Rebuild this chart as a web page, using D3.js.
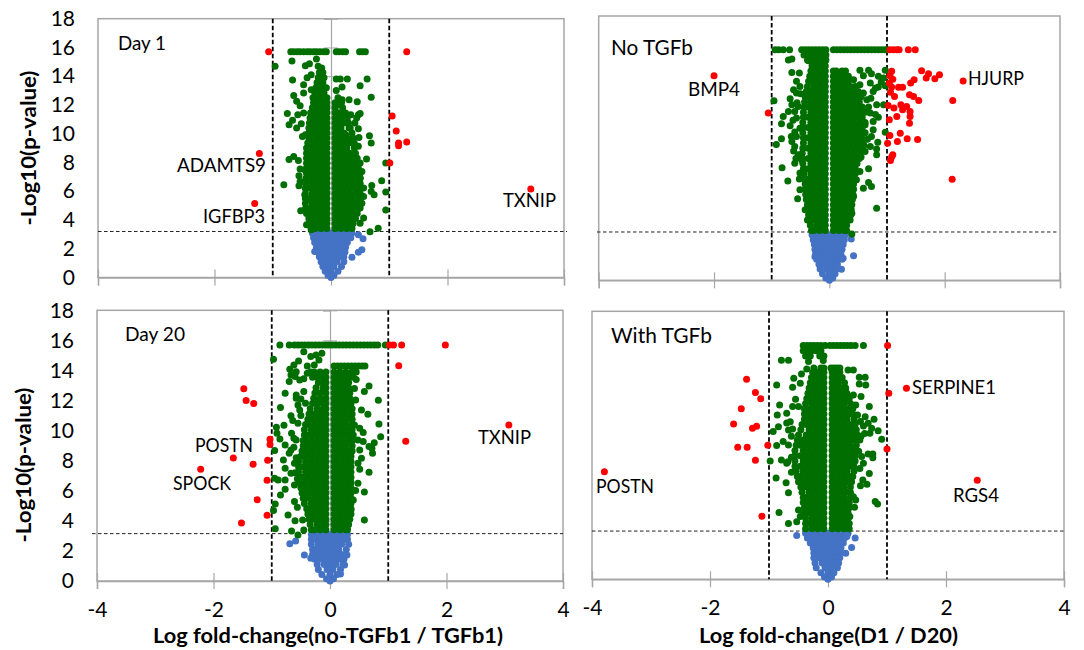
<!DOCTYPE html>
<html><head><meta charset="utf-8">
<script src="https://cdn.jsdelivr.net/npm/d3@7/dist/d3.min.js"></script>
<style>html,body{margin:0;padding:0;background:#fff}svg{display:block}text{font-family:Lato,"Open Sans",sans-serif;fill:#000}</style>
</head><body><svg id="chart" width="1084" height="650"></svg>
<script>
// Values. Isolated dots are read one by one as [x, y]; overplotted masses are typed row by row as [y, x, x, ...].
const xTicks=[-4,-2,0,2,4];
const yTicks=[0,2,4,6,8,10,12,14,16,18];

// ---- Day 1
const day1Red=[[-1.07,15.7],[1.3,15.7],[1.05,11.23],[1.12,10.19],[1.16,9.35],[1.16,9.16],[1.3,9.42],[1.01,7.96],[-1.23,8.63],[-1.31,5.15],[3.43,6.15]];
const day1Green=[[-.69,15.7],[-.64,15.7],[-.58,15.7],[-.53,15.7],[-.47,15.7],[-.41,15.7],[-.36,15.7],[-.3,15.7],[-.25,15.7],[-.19,15.7],[-.13,15.7],[-.08,15.7],[.09,15.7],[.14,15.7],[.2,15.7],[.25,15.7],[.49,15.7],[.54,15.7],[.59,15.7],
[-.96,14.7],[-.67,15.05],[-.44,14.73],[-.37,14.87],[-.66,13.74],[-.47,13.41],[-.41,13.9],[-.34,14.1],[-.22,14.7],[-.16,14.57],[-.16,14],[-.25,15.2],[-.64,12.65],[-.59,12.25],[-.53,11.95],[-.47,12.83],[-.34,13.06],[-.31,12.5],[-.47,11.44],[-.75,11.4],[-.57,11.32],[-.66,10.93],[-.72,10.63],[-.51,10.7],[-.59,10.4],[-.49,9.8],[-.44,9.93],[-.72,8.2],[-.64,8.42],[-.56,8.14],[-.53,7.54],[-.45,7.5],[-.55,7.08],[-.53,6.68],[-.81,6.45],[-.55,6.38],[-.44,6.57],[-.45,5.75],[-.41,5.4],[-.52,4.64],[-.44,4.76],[-.37,4],[-.42,3.67],[-.34,3.32],
[.09,13.8],[.16,13.8],[.28,13.8],[.62,13.8],[.5,13.34],[.19,13.25],[.09,13],[.69,12.53],[.45,12.23],[.31,12.37],[.19,12.37],[.12,12.02],[.34,11.32],[.47,11.32],[.25,11.44],[.5,11.4],[.44,11.09],[.41,10.74],[.47,10.35],[.31,10.4],[.48,9.74],[.66,9.86],[.69,9.35],[.47,9.12],[.25,9.93],[.61,8.24],[.94,7.96],[.5,7.96],[.53,7.38],[.5,6.91],[.87,6.73],[.7,6.4],[.56,6.22],[.69,5.99],[.94,5.94],[.74,5.75],[.56,5.64],[.53,5.17],[.5,4.83],[.94,4.69],[.56,4.13],[.5,3.78],[.81,3.43],[.67,3.18]];
const day1Core=[
[3.4,-.34,-.27,-.17,-.07,.07,.17,.27,.36],
[3.75,-.36,-.32,-.22,-.12,-.07,.07,.12,.22,.32,.38],
[4.1,-.38,-.27,-.17,-.07,.07,.17,.27,.37,.42],
[4.45,-.42,-.32,-.22,-.12,-.07,.07,.12,.22,.32,.42,.45],
[4.8,-.43,-.37,-.27,-.17,-.07,.07,.17,.27,.37,.47],
[5.15,-.44,-.32,-.22,-.12,-.07,.07,.12,.22,.32,.42,.48],
[5.5,-.44,-.37,-.27,-.17,-.07,.07,.17,.27,.37,.48],
[5.85,-.44,-.32,-.22,-.12,-.07,.07,.12,.22,.32,.42,.5],
[6.2,-.44,-.37,-.27,-.17,-.07,.07,.17,.27,.37,.47,.5],
[6.55,-.43,-.32,-.22,-.12,-.07,.07,.12,.22,.32,.42,.5],
[6.9,-.43,-.37,-.27,-.17,-.07,.07,.17,.27,.37,.47,.5],
[7.25,-.42,-.32,-.22,-.12,-.07,.07,.12,.22,.32,.42,.5],
[7.6,-.42,-.37,-.27,-.17,-.07,.07,.17,.27,.37,.47],
[7.95,-.42,-.32,-.22,-.12,-.07,.07,.12,.22,.32,.42,.47],
[8.3,-.42,-.37,-.27,-.17,-.07,.07,.17,.27,.37,.45],
[8.65,-.42,-.32,-.22,-.12,-.07,.07,.12,.22,.32,.42],
[9,-.42,-.37,-.27,-.17,-.07,.07,.17,.27,.4],
[9.35,-.4,-.32,-.22,-.12,-.07,.07,.12,.22,.32,.4],
[9.7,-.38,-.27,-.17,-.07,.07,.17,.27,.38],
[10.05,-.38,-.32,-.22,-.12,-.07,.07,.12,.22,.36],
[10.4,-.38,-.27,-.17,-.07,.07,.17,.33],
[10.75,-.37,-.32,-.22,-.12,-.07,.07,.12,.22,.3],
[11.1,-.36,-.27,-.17,-.07,.07,.17,.28],
[11.45,-.35,-.32,-.22,-.12,-.07,.07,.12,.22],
[11.8,-.32,-.27,-.17,-.07,.07,.2],
[12.15,-.3,-.22,-.12,-.07,.07,.12,.18],
[12.5,-.28,-.17,-.07,.12],
[12.85,-.28,-.22,-.12],
[13.2,-.26,-.17,-.08],
[13.55,-.24,-.14],
[13.9,-.22,-.12],
[14.25,-.2,-.14]];
const day1Blue=[
[3.1,-.32,-.3,-.2,-.1,0,.1,.2,.3,.36],
[2.77,-.3,-.25,-.15,-.05,.05,.15,.25,.34],
[2.44,-.28,-.2,-.1,0,.1,.2,.28],
[2.1,-.25,-.15,-.05,.05,.15,.25],
[1.77,-.22,-.2,-.1,0,.1,.2,.24],
[1.44,-.2,-.15,-.05,.05,.15,.22],
[1.1,-.17,-.1,0,.1,.22],
[.77,-.14,-.05,.05,.18],
[.44,-.1,0,.12],
[.15,-.05,.05],[0,0]];
const day1BlueOut=[[.47,2.97],[.55,2.69],[.53,1.93],[.47,1.76],[-.28,1.81],[.36,1.41]];

// ---- No TGFb
const noTgfbRed=[[-2,13.93],[-1.06,11.39],[2.32,13.57],[2.14,12.25],[2.13,6.89],[1.05,15.7],[1.11,15.7],[1.17,15.7],[1.21,15.7],[1.37,15.7],[1.49,15.7],[1.6,14.27],[1.72,14.07],[1.68,13.77],[1.91,14],[1.83,13.73],[1.47,13.66],[1.41,13.43],[1.08,14.23],[1.05,13.93],[1.1,13.7],[1.04,13.43],[1.08,13.16],[1.2,13.14],[1.27,13.14],[1.06,12.8],[1.13,12.52],[1.39,12.64],[1.46,12.52],[1.55,12.25],[1.02,11.91],[1.12,11.73],[1.24,11.95],[1.34,11.84],[1.27,11.61],[1.4,11.5],[1.4,11.16],[1.17,11.16],[1.04,10.93],[1.39,10.7],[1.23,10.02],[1.05,9.86],[1.35,9.64],[1.53,9.59],[1.18,9.45],[1.01,9.34],[1.1,8.55],[1.08,8.39],[1.06,8.16]];
const noTgfbGreen=[[-.94,15.7],[-.88,15.7],[-.8,15.7],[-.69,15.7],[-.48,15.7],[-.42,15.7],[-.36,15.7],[-.3,15.7],[-.24,15.7],[-.18,15.7],[-.12,15.7],[-.06,15.7],[.07,15.7],[.13,15.7],[.19,15.7],[.25,15.7],[.31,15.7],[.37,15.7],[.43,15.7],[.49,15.7],[.55,15.7],[.61,15.7],[.67,15.7],[.73,15.7],[.79,15.7],[.85,15.7],[.91,15.7],[.97,15.7],[1,15.7],
[-.44,15.35],[-.36,15.35],[-.28,15.35],[-.2,15.35],[-.12,15.35],[-.06,15.35],[-.71,15],[-.65,15.07],[-.38,15],[-.3,15],[-.22,15],[-.1,15],[-.06,15],
[-.96,12.23],[-.65,14.16],[-.52,14.11],[-.57,13.55],[-.51,13.2],[-.62,12.98],[-.57,12.75],[-.68,12.36],[-.65,11.95],[-.71,11.5],[-.54,11.84],[-.8,11.16],[-.83,10.66],[-.68,10.52],[-.57,11.05],[-.51,10.36],[-.83,9.64],[-.92,9.25],[-.65,9.45],[-.57,9.8],[-.6,9.11],[-.54,8.55],[-.6,7.98],[-.82,7.66],[-.51,7.3],[-.72,6.77],[-.51,6.16],[-.55,5.55],[-.42,4.8],[-.38,4.11],[-.48,8.2],[-.63,10.9],[-.6,10.1],[-.66,9.8],[-.62,8.8],[-.58,8.3],[-.52,6.9],[-.5,12.7],[-.56,12.1],[-.6,11.5],
[.53,14.3],[.68,14.3],[.73,14.07],[.97,14.3],[.85,13.89],[.94,13.77],[.59,13.93],[.42,13.66],[.53,13.32],[.71,13.43],[.85,13.16],[.97,13.25],[.76,12.86],[.59,12.75],[.65,12.3],[.82,11.95],[.94,11.95],[.71,11.39],[.85,11.11],[.76,10.82],[.62,10.59],[.76,10.25],[.97,10.09],[.73,9.8],[.84,9.41],[.71,9.11],[.62,8.77],[.82,8.95],[.82,8.55],[.47,8.43],[.45,7.98],[.68,7.59],[.53,7.41],[.47,6.84],[.68,6.66],[.73,6.39],[.59,6.27],[.42,5.7],[.82,4.91],[.39,4.57],[.39,3.16],[.9,13.5],[.8,13.1],[.72,12.4],[.68,11.8],[.8,11.3],[.66,9.6],[.6,9.2],[.55,8.4]];
const noTgfbCore=[
[3.4,-.31,-.27,-.17,-.07,.07,.17,.27,.3],
[3.75,-.33,-.22,-.12,-.07,.07,.12,.22,.3],
[4.1,-.36,-.27,-.17,-.07,.07,.17,.27,.36],
[4.45,-.36,-.32,-.22,-.12,-.07,.07,.12,.22,.32,.37],
[4.8,-.37,-.27,-.17,-.07,.07,.17,.27,.38],
[5.15,-.38,-.32,-.22,-.12,-.07,.07,.12,.22,.32,.39],
[5.5,-.4,-.37,-.27,-.17,-.07,.07,.17,.27,.37,.4],
[5.85,-.41,-.32,-.22,-.12,-.07,.07,.12,.22,.32,.41],
[6.2,-.42,-.37,-.27,-.17,-.07,.07,.17,.27,.37,.42],
[6.55,-.42,-.32,-.22,-.12,-.07,.07,.12,.22,.32,.42],
[6.9,-.43,-.37,-.27,-.17,-.07,.07,.17,.27,.37,.43],
[7.25,-.44,-.32,-.22,-.12,-.07,.07,.12,.22,.32,.42,.45],
[7.6,-.45,-.37,-.27,-.17,-.07,.07,.17,.27,.37,.45],
[7.95,-.46,-.32,-.22,-.12,-.07,.07,.12,.22,.32,.42,.48],
[8.3,-.47,-.37,-.27,-.17,-.07,.07,.17,.27,.37,.47,.52],
[8.65,-.47,-.32,-.22,-.12,-.07,.07,.12,.22,.32,.42,.52],
[9,-.46,-.37,-.27,-.17,-.07,.07,.17,.27,.37,.47,.55],
[9.35,-.45,-.32,-.22,-.12,-.07,.07,.12,.22,.32,.42,.52,.58],
[9.7,-.45,-.37,-.27,-.17,-.07,.07,.17,.27,.37,.47,.56],
[10.05,-.46,-.32,-.22,-.12,-.07,.07,.12,.22,.32,.42,.52,.62],
[10.4,-.46,-.37,-.27,-.17,-.07,.07,.17,.27,.37,.47,.57],
[10.75,-.46,-.32,-.22,-.12,-.07,.07,.12,.22,.32,.42,.52,.62],
[11.1,-.45,-.37,-.27,-.17,-.07,.07,.17,.27,.37,.47,.57],
[11.45,-.45,-.32,-.22,-.12,-.07,.07,.12,.22,.32,.42,.52,.62],
[11.8,-.44,-.37,-.27,-.17,-.07,.07,.17,.27,.37,.47,.57],
[12.15,-.43,-.32,-.22,-.12,-.07,.07,.12,.22,.32,.42,.52],
[12.5,-.42,-.37,-.27,-.17,-.07,.07,.17,.27,.37,.47,.55],
[12.85,-.4,-.32,-.22,-.12,-.07,.07,.12,.22,.32,.42,.5],
[13.2,-.38,-.27,-.17,-.07,.07,.17,.27,.37,.45],
[13.55,-.36,-.32,-.22,-.12,-.07,.07,.12,.22,.32],
[13.9,-.34,-.27,-.17,-.07,.07,.17,.27,.33],
[14.25,-.32,-.22,-.12,-.07,.07,.12,.22,.28],
[14.6,-.3,-.27,-.17,-.07],
[14.95,-.36,-.22,-.12,-.07]];
const noTgfbBlue=[
[3.1,-.3,-.2,-.1,0,.1,.2,.28],
[2.77,-.28,-.25,-.15,-.05,.05,.15,.26],
[2.44,-.26,-.2,-.1,0,.1,.2,.24],
[2.1,-.25,-.15,-.05,.05,.15,.22],
[1.77,-.24,-.2,-.1,0,.1,.2],
[1.44,-.22,-.15,-.05,.05,.15,.22],
[1.1,-.18,-.1,0,.1,.14],
[.77,-.16,-.05,.05,.12],
[.44,-.12,0,.1],
[.15,-.06,.06],[0,0]];
const noTgfbBlueOut=[[.38,2.82],[.42,1.68],[.21,.75],[.24,1.5],[-.25,1.6]];

// ---- Day 20
const day20Red=[[1.02,15.7],[1.09,15.7],[1.23,15.7],[1.98,15.7],[1.18,14.32],[3.07,10.38],[1.3,9.29],[-1.48,12.79],[-1.44,12],[-1.31,11.8],[-1.03,9.42],[-1.03,9.07],[-1.66,8.18],[-2.22,7.43],[-1.32,7.76],[-1.07,8.03],[-1.08,6.7],[-1.25,5.41],[-1.08,4.37],[-1.52,3.86]];
const day20Green=[[-.86,15.7],[-.7,15.7],[-.61,15.7],[-.55,15.7],[-.49,15.7],[-.43,15.7],[-.37,15.7],[-.31,15.7],[-.25,15.7],[-.19,15.7],[-.13,15.7],[-.07,15.7],[-.02,15.7],[.04,15.7],[.1,15.7],[.16,15.7],[.22,15.7],[.28,15.7],[.34,15.7],[.4,15.7],[.46,15.7],[.52,15.7],[.58,15.7],[.64,15.7],[.7,15.7],[.76,15.7],[.82,15.7],[.95,15.7],
[-.97,14.74],[-.45,15.25],[-.33,14.92],[-.24,15.03],[-.14,15.14],[-.19,14.7],[-.27,14.37],[-.39,14.3],[-.54,14.63],[-.62,14.37],[-.69,14.08],[-.67,13.7],[-.7,13.26],[-.58,13.92],[-.39,13.81],[-.52,13.37],[-.45,13.45],[-.6,13.6],[-.77,12.48],[-.45,12.6],[-.58,12.37],[-.58,12.15],[-.85,11.53],[-.55,11.7],[-.42,11.82],[-.52,11.37],[-.67,10.98],[-.64,10.67],[-.79,10.35],[-.92,10.22],[-.55,10.49],[-.91,9.82],[-.66,9.82],[-.86,9.45],[-.77,9.05],[-.95,8.67],[-.58,9.38],[-.67,8.71],[-.8,8.05],[-.7,8.49],[-.77,7.49],[-.61,7.83],[-.95,6.83],[-.89,6.72],[-.77,6.72],[-.67,7.16],[-.61,6.39],[-.77,6.1],[-.85,5.72],[-.61,5.28],[-.94,5.12],[-.97,4.68],[-.56,4.9],[-.72,4.39],[-.6,4.01],[-.47,4.06],[-.94,3.48],[-.66,3.33],[-.45,3.39],[-.55,3.06],[-.62,8.9],[-.58,8.2],[-.6,7.2],[-.56,6.8],[-.62,9.5],[-.5,11],[-.5,12.1],
[.67,12.97],[.59,12.6],[.44,12.04],[.83,12.02],[.54,11.37],[.65,11.09],[.84,10.44],[.87,9.6],[.51,10.16],[.57,9.87],[.42,10.38],[.48,9.38],[.57,9.27],[.76,9.2],[.67,8.94],[.72,8.82],[.73,8.49],[.51,8.71],[.54,8.16],[.48,7.83],[.51,7.43],[.67,7.23],[.48,6.5],[.44,6.01],[.59,5.92],[.4,5.39],[.59,4.06],[.36,4.72],[.29,3.5],[.45,13.4],[.42,12.8]];
const day20Core=[
[3.4,-.32,-.27,-.17,-.07,.07,.17,.27,.3],
[3.75,-.34,-.22,-.12,-.07,.07,.12,.22,.32],
[4.1,-.36,-.27,-.17,-.07,.07,.17,.27,.34],
[4.45,-.38,-.32,-.22,-.12,-.07,.07,.12,.22,.32,.36],
[4.8,-.4,-.37,-.27,-.17,-.07,.07,.17,.27,.36],
[5.15,-.44,-.32,-.22,-.12,-.07,.07,.12,.22,.32,.36],
[5.5,-.46,-.37,-.27,-.17,-.07,.07,.17,.27,.36],
[5.85,-.48,-.42,-.32,-.22,-.12,-.07,.07,.12,.22,.32,.36],
[6.2,-.5,-.47,-.37,-.27,-.17,-.07,.07,.17,.27,.36],
[6.55,-.52,-.42,-.32,-.22,-.12,-.07,.07,.12,.22,.32,.36],
[6.9,-.52,-.47,-.37,-.27,-.17,-.07,.07,.17,.27,.36],
[7.25,-.54,-.42,-.32,-.22,-.12,-.07,.07,.12,.22,.32,.36],
[7.6,-.54,-.47,-.37,-.27,-.17,-.07,.07,.17,.27,.36],
[7.95,-.54,-.42,-.32,-.22,-.12,-.07,.07,.12,.22,.32,.36],
[8.3,-.5,-.47,-.37,-.27,-.17,-.07,.07,.17,.27,.36],
[8.65,-.48,-.42,-.32,-.22,-.12,-.07,.07,.12,.22,.32,.38],
[9,-.46,-.37,-.27,-.17,-.07,.07,.17,.27,.38],
[9.35,-.46,-.42,-.32,-.22,-.12,-.07,.07,.12,.22,.32,.38],
[9.7,-.44,-.37,-.27,-.17,-.07,.07,.17,.27,.37,.4],
[10.05,-.44,-.32,-.22,-.12,-.07,.07,.12,.22,.32,.38],
[10.4,-.42,-.37,-.27,-.17,-.07,.07,.17,.27,.38],
[10.75,-.38,-.32,-.22,-.12,-.07,.07,.12,.22,.32,.38],
[11.1,-.36,-.27,-.17,-.07,.07,.17,.27,.38],
[11.45,-.34,-.22,-.12,-.07,.07,.12,.22,.32,.38],
[11.8,-.3,-.22,-.12,-.07,.07,.17,.27,.36],
[12.15,-.28,-.17,-.07,.07,.12,.22,.32,.34],
[12.5,-.26,-.17,-.07,.07,.17,.27,.34],
[12.85,-.24,-.12,-.07,.07,.12,.22,.32],
[13.2,-.2,-.12,-.07,.07,.17,.27,.32],
[13.55,-.3,-.22,-.12,-.07,.07,.12,.22,.32,.4],
[13.9,-.33,-.27,-.17,-.07,.07,.17,.27,.37,.45],
[14.3,.07,.13,.19,.25,.31,.37,.43,.49,.55,.6]];
const day20Blue=[
[3.1,-.32,-.3,-.2,-.1,0,.1,.2,.3],
[2.77,-.32,-.25,-.15,-.05,.05,.15,.25,.3],
[2.44,-.32,-.2,-.1,0,.1,.2,.32],
[2.1,-.3,-.25,-.15,-.05,.05,.15,.28],
[1.77,-.3,-.2,-.1,0,.1,.2,.28],
[1.44,-.26,-.15,-.05,.05,.15,.24],
[1.1,-.22,-.1,0,.1,.22],
[.77,-.2,-.05,.05,.18],
[.44,-.14,0,.12],
[.15,-.06,.06],[0,0]];
const day20BlueOut=[[-.69,2.48],[-.59,2.66],[-.44,1.73],[-.33,1.51],[.18,.47],[.29,1.73],[.25,1.06]];

// ---- With TGFb
const withTgfbRed=[[1.01,15.7],[1.33,12.83],[1.03,12.49],[1,8.75],[2.53,6.65],[-3.79,7.23],[-1.38,13.43],[-1.23,12.54],[-1.14,12.13],[-1.47,11.46],[-1.6,10.43],[-1.28,10.14],[-1.21,10.28],[-1.53,8.87],[-1.37,8.87],[-1.02,9],[-1.23,7.99],[-1.12,4.23]];
const withTgfbGreen=[[-.42,15.7],[-.36,15.7],[-.3,15.7],[-.24,15.7],[-.18,15.7],[-.12,15.7],[-.05,15.7],[.03,15.7],[.09,15.7],[.15,15.7],[.21,15.7],[.27,15.7],[.33,15.7],[.39,15.7],[.46,15.7],[.6,15.7],
[-.42,15.35],[-.36,15.35],[-.28,15.35],[-.2,15.35],[-.12,15.35],[-.38,15],[-.3,15],[-.14,15],[-.07,15],[-.79,14.71],[-.67,14.71],[-.33,14.62],[-.08,14.69],[-.36,14.13],[-.45,13.79],[-.58,13.5],[-.87,13.05],[-.6,12.9],[-.47,13.16],[-.82,11.71],[-.86,11.04],[-.6,11.6],[-.7,11.15],[-.64,10.59],[-.84,10.25],[-.93,9.92],[-.67,10.03],[-.76,9.25],[-.87,8.98],[-.67,9.02],[-.79,8.01],[-.98,7.95],[-.7,7.79],[-.62,7.19],[-.88,6.81],[-.71,6.49],[-.67,5.82],[-.5,4.66],[-.83,4.48],[-.53,3.87],[-.67,3.74],[-.47,4.21],[-.62,8.2],[-.68,7.9],[-.6,10.1],[-.7,10.5],[-.62,9.6],[-.55,12.1],[-.5,11.6],
[.34,14.06],[.43,14.06],[.53,13.57],[.63,13.57],[.53,13.12],[.64,13.05],[.43,12.38],[.56,12.27],[.47,11.71],[.7,11.6],[.5,11.04],[.63,10.92],[.78,10.75],[.68,10.48],[.74,10.14],[.85,9.98],[.71,9.81],[.91,9.4],[.54,9.36],[.68,8.42],[.76,8.42],[.76,8.17],[.57,8.24],[.6,7.79],[.54,7.45],[.7,7.1],[.59,6.67],[.66,6.38],[.55,6.29],[.43,5.55],[.47,5.33],[.8,5.22],[.84,5.06],[.45,4.84],[.37,4.21],[.6,10.3],[.62,9.8],[.55,10.6],[.56,9.6],[.52,8.6]];
const withTgfbCore=[
[3.4,-.38,-.27,-.17,-.07,.07,.17,.27,.36],
[3.75,-.38,-.32,-.22,-.12,-.07,.07,.12,.22,.32,.36],
[4.1,-.38,-.27,-.17,-.07,.07,.17,.27,.34],
[4.45,-.4,-.32,-.22,-.12,-.07,.07,.12,.22,.32,.34],
[4.8,-.4,-.37,-.27,-.17,-.07,.07,.17,.27,.36],
[5.15,-.42,-.32,-.22,-.12,-.07,.07,.12,.22,.32,.36],
[5.5,-.42,-.37,-.27,-.17,-.07,.07,.17,.27,.38],
[5.85,-.44,-.32,-.22,-.12,-.07,.07,.12,.22,.32,.38],
[6.2,-.46,-.37,-.27,-.17,-.07,.07,.17,.27,.38],
[6.55,-.5,-.42,-.32,-.22,-.12,-.07,.07,.12,.22,.32,.4],
[6.9,-.52,-.47,-.37,-.27,-.17,-.07,.07,.17,.27,.37,.42],
[7.25,-.54,-.42,-.32,-.22,-.12,-.07,.07,.12,.22,.32,.44],
[7.6,-.56,-.47,-.37,-.27,-.17,-.07,.07,.17,.27,.37,.44],
[7.95,-.56,-.42,-.32,-.22,-.12,-.07,.07,.12,.22,.32,.42,.46],
[8.3,-.56,-.47,-.37,-.27,-.17,-.07,.07,.17,.27,.37,.46],
[8.65,-.56,-.42,-.32,-.22,-.12,-.07,.07,.12,.22,.32,.42,.46],
[9,-.54,-.47,-.37,-.27,-.17,-.07,.07,.17,.27,.37,.48],
[9.35,-.52,-.42,-.32,-.22,-.12,-.07,.07,.12,.22,.32,.42,.5],
[9.7,-.5,-.37,-.27,-.17,-.07,.07,.17,.27,.37,.47,.5],
[10.05,-.46,-.32,-.22,-.12,-.07,.07,.12,.22,.32,.42,.48],
[10.4,-.44,-.37,-.27,-.17,-.07,.07,.17,.27,.37,.46],
[10.75,-.4,-.32,-.22,-.12,-.07,.07,.12,.22,.32,.44],
[11.1,-.4,-.37,-.27,-.17,-.07,.07,.17,.27,.37,.42],
[11.45,-.4,-.32,-.22,-.12,-.07,.07,.12,.22,.32,.42],
[11.8,-.38,-.27,-.17,-.07,.07,.17,.27,.38],
[12.15,-.36,-.32,-.22,-.12,-.07,.07,.12,.22,.32,.36],
[12.5,-.34,-.27,-.17,-.07,.07,.17,.27,.32],
[12.85,-.32,-.22,-.12,-.07,.07,.12,.22,.3],
[13.2,-.3,-.27,-.17,-.07,.07,.17,.28],
[13.55,-.28,-.22,-.12,-.07,.07,.12,.22,.24],
[13.9,-.26,-.17,-.07,.07,.17,.2],
[14.2,-.24,-.12,-.07,.05,.1,.15,.2]];
const withTgfbBlue=[
[3.1,-.38,-.3,-.2,-.1,0,.1,.2,.3,.34],
[2.77,-.35,-.25,-.15,-.05,.05,.15,.25,.28],
[2.44,-.3,-.2,-.1,0,.1,.2,.26],
[2.1,-.25,-.15,-.05,.05,.15,.22],
[1.77,-.24,-.2,-.1,0,.1,.2],
[1.44,-.24,-.15,-.05,.05,.15,.2],
[1.1,-.22,-.1,0,.1,.18],
[.77,-.2,-.05,.05,.16],
[.44,-.12,0,.1],
[.15,-.06,.06],[0,0]];
const withTgfbBlueOut=[[-.53,2.95],[.46,2.78],[.32,2.87],[.4,2.13],[.3,1.75]];

const panelTitles=["Day 1","No TGFb","Day 20","With TGFb"];
const geneLabels=[["ADAMTS9","IGFBP3","TXNIP"],["BMP4","HJURP"],["POSTN","SPOCK","TXNIP"],["SERPINE1","POSTN","RGS4"]];
const xTitles=["Log fold-change(no-TGFb1 / TGFb1)","Log fold-change(D1 / D20)"];
const yTitle="-Log10(p-value)";

// ---- Layout (pixels), kept apart from the data
const layouts=[
 {l:98,r:564,t:18.7,b:277.5,pThresh:3.2,axisAtZero:true,yLabels:true,xLabels:false,hl:98,hr:567,yTitlePos:[29,148],titleSize:19,
  title:[118,50,48],labels:[[177,172,89],[203,223,62],[503,207,53]]},
 {l:598.7,r:1060,t:16,b:280.3,pThresh:3.29,axisAtZero:false,yLabels:false,xLabels:false,hl:597,hr:1058,titleSize:22,
  title:[611,55,82],labels:[[688,96,52],[968,85,56]]},
 {l:97,r:563,t:310.3,b:581,pThresh:3.15,axisAtZero:true,yLabels:true,xLabels:true,hl:92,hr:563,xTitle:0,xTitleBox:[153,350],yTitlePos:[24,465],titleSize:19,
  title:[125,341,60],labels:[[195,452,58],[173,490,58],[478,444,53]]},
 {l:592,r:1064,t:311.3,b:579.3,pThresh:3.24,axisAtZero:false,yLabels:false,xLabels:true,hl:592,hr:1064,xTitle:1,xTitleBox:[699,259],titleSize:22,
  title:[611,343,101],labels:[[912,394,84],[596,493,58],[953,502,46]]}
];
const series=[
 {red:day1Red,green:day1Green,core:day1Core,blue:day1Blue,blueOut:day1BlueOut},
 {red:noTgfbRed,green:noTgfbGreen,core:noTgfbCore,blue:noTgfbBlue,blueOut:noTgfbBlueOut},
 {red:day20Red,green:day20Green,core:day20Core,blue:day20Blue,blueOut:day20BlueOut},
 {red:withTgfbRed,green:withTgfbGreen,core:withTgfbCore,blue:withTgfbBlue,blueOut:withTgfbBlueOut}];

const AXIS="#a6a6a6",GREEN="#006e00",BLUE="#4472c4",RED="#ff0000",R=3.5;
const svg=d3.select("#chart");
const expand=r=>r.slice(1).map(x=>[x,r[0]]);

layouts.forEach((p,i)=>{
 const d=series[i];
 const x=d3.scaleLinear().domain([-4,4]).range([p.l,p.r]);
 const y=d3.scaleLinear().domain([0,18]).range([p.b,p.t]);
 const g=svg.append("g");
 g.append("rect").attr("x",p.l).attr("y",p.t).attr("width",p.r-p.l).attr("height",p.b-p.t).attr("fill","none").attr("stroke",AXIS).attr("stroke-width",1.5);
 const xa=g.append("g").attr("transform",`translate(0,${p.b})`).call(d3.axisBottom(x).tickValues(xTicks).tickSize(8).tickFormat(v=>p.xLabels?String(v):""));
 xa.select(".domain").attr("stroke",AXIS).attr("stroke-width",1.5);
 xa.selectAll(".tick line").attr("y1",-8).attr("stroke",AXIS).attr("stroke-width",1.2);
 xa.selectAll(".tick text").attr("y",21).style("font-size","21px").attr("font-family",null);
 if(p.axisAtZero){
  const ya=g.append("g").attr("transform",`translate(${x(0)},0)`).call(d3.axisLeft(y).tickValues(yTicks).tickSize(7).tickFormat(""));
  ya.select(".domain").attr("stroke",AXIS).attr("stroke-width",1.2);
  ya.selectAll(".tick line").attr("x2",7).attr("x1",-7).attr("stroke",AXIS);
 }
 if(p.yLabels){
  const yl=g.append("g").attr("transform",`translate(${p.l-23},0)`).call(d3.axisLeft(y).tickValues(yTicks).tickSize(0).tickPadding(0));
  yl.select(".domain").remove();
  yl.selectAll(".tick text").style("font-size","21px").attr("font-family",null);
  g.append("text").attr("transform",`translate(${p.yTitlePos[0]+7},${p.yTitlePos[1]}) rotate(-90)`).attr("text-anchor","middle").attr("font-weight","700").style("font-size","21.5px").attr("textLength",155).attr("lengthAdjust","spacingAndGlyphs").text(yTitle);
 }
 [-1,1].forEach(v=>g.append("line").attr("x1",x(v)).attr("x2",x(v)).attr("y1",p.t).attr("y2",p.b).attr("stroke","#000").attr("stroke-width",1.8).attr("stroke-dasharray","4.5 2.5"));
 g.append("line").attr("x1",p.hl).attr("x2",p.hr).attr("y1",y(p.pThresh)).attr("y2",y(p.pThresh)).attr("stroke","#222").attr("stroke-width",1).attr("stroke-dasharray","3.5 2.5");
 const dots=(pts,c)=>g.append("g").selectAll("circle").data(pts).join("circle").attr("cx",v=>x(v[0])).attr("cy",v=>y(v[1])).attr("r",R).attr("fill",c);
 dots(d.blue.flatMap(expand).concat(d.blueOut),BLUE);
 dots(d.green.concat(d.core.flatMap(expand)),GREEN);
 dots(d.red,RED);
 const lab=(box,s,size)=>g.append("text").attr("x",box[0]).attr("y",box[1]).style("font-size",size+"px").attr("textLength",box[2]).attr("lengthAdjust","spacingAndGlyphs").text(s);
 lab(p.title,panelTitles[i],p.titleSize);
 p.labels.forEach((b,j)=>lab(b,geneLabels[i][j],20));
 if(p.xLabels){
  g.append("text").attr("x",p.xTitleBox[0]).attr("y",643).attr("font-weight","700").style("font-size","21.5px").attr("textLength",p.xTitleBox[1]).attr("lengthAdjust","spacingAndGlyphs").text(xTitles[p.xTitle]);
 }
});
</script></body></html>
